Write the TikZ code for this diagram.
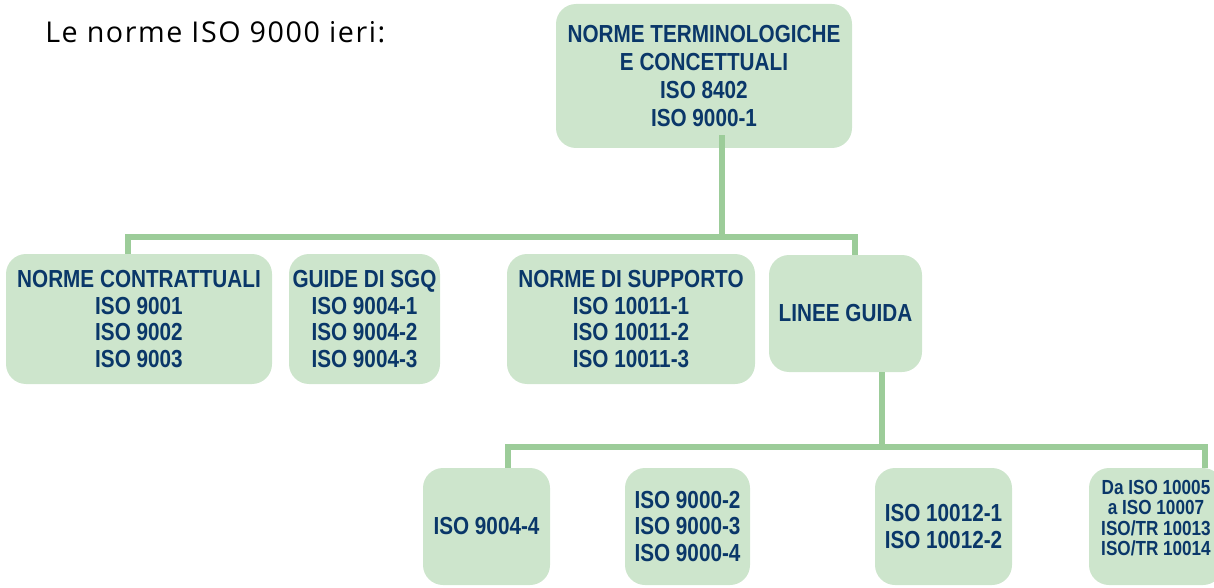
\documentclass[tikz,border=0pt]{standalone}
\usepackage{fontspec}
\setmainfont[LetterSpace=5.5]{Open Sans}
\newfontfamily\boxfont[FakeStretch=0.84]{Liberation Sans}
\usetikzlibrary{calc}
\definecolor{boxgreen}{RGB}{205,229,204}
\definecolor{linegreen}{RGB}{156,204,153}
\definecolor{textnavy}{RGB}{10,55,105}
\tikzset{
  normbox/.style 2 args={fill=boxgreen, rounded corners=15pt, inner sep=0pt,
    minimum width=#1*0.75pt, minimum height=#2*0.75pt, align=center, text=textnavy,
    font=\boxfont\bfseries\fontsize{18.5}{20.1}\selectfont},
  smalltext/.style={font=\boxfont\bfseries\fontsize{15.3}{15.4}\selectfont, text depth=13pt},
  conn/.style={draw=linegreen, line width=5.2pt},
  titletext/.style={font=\fontsize{21.5}{26}\selectfont, inner sep=0pt},
}

\begin{document}
\begin{tikzpicture}[x=0.75pt, y=-0.75pt]
		%%%%% START %%%%%
		\useasboundingbox (0, 0) rectangle (1214, 588);
		
		\node[titletext, anchor=base west] (title) at (45, 43) {Le norme ISO 9000 ieri:};
		
		\node[normbox={296}{144}, font=\boxfont\bfseries\fontsize{18.5}{21.2}\selectfont] (term) at (704, 76)
			{NORME TERMINOLOGICHE\\E CONCETTUALI\\ISO 8402\\ISO 9000-1};
		
		\node[normbox={266}{130}] (contr) at (139, 319) {NORME CONTRATTUALI\\ISO 9001\\ISO 9002\\ISO 9003};
		\node[normbox={151}{130}] (sgq) at (364.5, 319) {GUIDE DI SGQ\\ISO 9004-1\\ISO 9004-2\\ISO 9004-3};
		\node[normbox={248}{130}] (supp) at (631, 319) {NORME DI SUPPORTO\\ISO 10011-1\\ISO 10011-2\\ISO 10011-3};
		\node[normbox={153}{117}] (linee) at (845.5, 313.5) {LINEE GUIDA};
		
		\node[normbox={127}{117}] (b1) at (486.5, 526.5) {ISO 9004-4};
		\node[normbox={125}{117}] (b2) at (687.5, 526.5) {ISO 9000-2\\ISO 9000-3\\ISO 9000-4};
		\node[normbox={137}{117}] (b3) at (943.5, 526.5) {ISO 10012-1\\ISO 10012-2};
		\node[normbox={134}{117}, smalltext] (b4) at (1156, 526.5)
			{Da ISO 10005\\a ISO 10007\\ISO/TR 10013\\ISO/TR 10014};
		
		% first level
		\coordinate (hubA) at (722, 237);
		\coordinate (busA) at (128, 237);
		\coordinate (busB) at (855, 237);
		\draw[conn] ($(term.south -| hubA)+(0,-13)$) -- (hubA);
		\draw[conn] (contr.north -| busA) -- (busA) -- (busB) -- (linee.north -| busB);
		
		% second level
		\coordinate (hubB) at (882, 447);
		\coordinate (busC) at (508, 447);
		\coordinate (busD) at (1205, 447);
		\draw[conn] (linee.south -| hubB) -- (hubB);
		\draw[conn] (b1.north -| busC) -- (busC) -- (busD) -- (b4.north -| busD);
		
		%%%%% END %%%%%
	\end{tikzpicture}
\end{document}
